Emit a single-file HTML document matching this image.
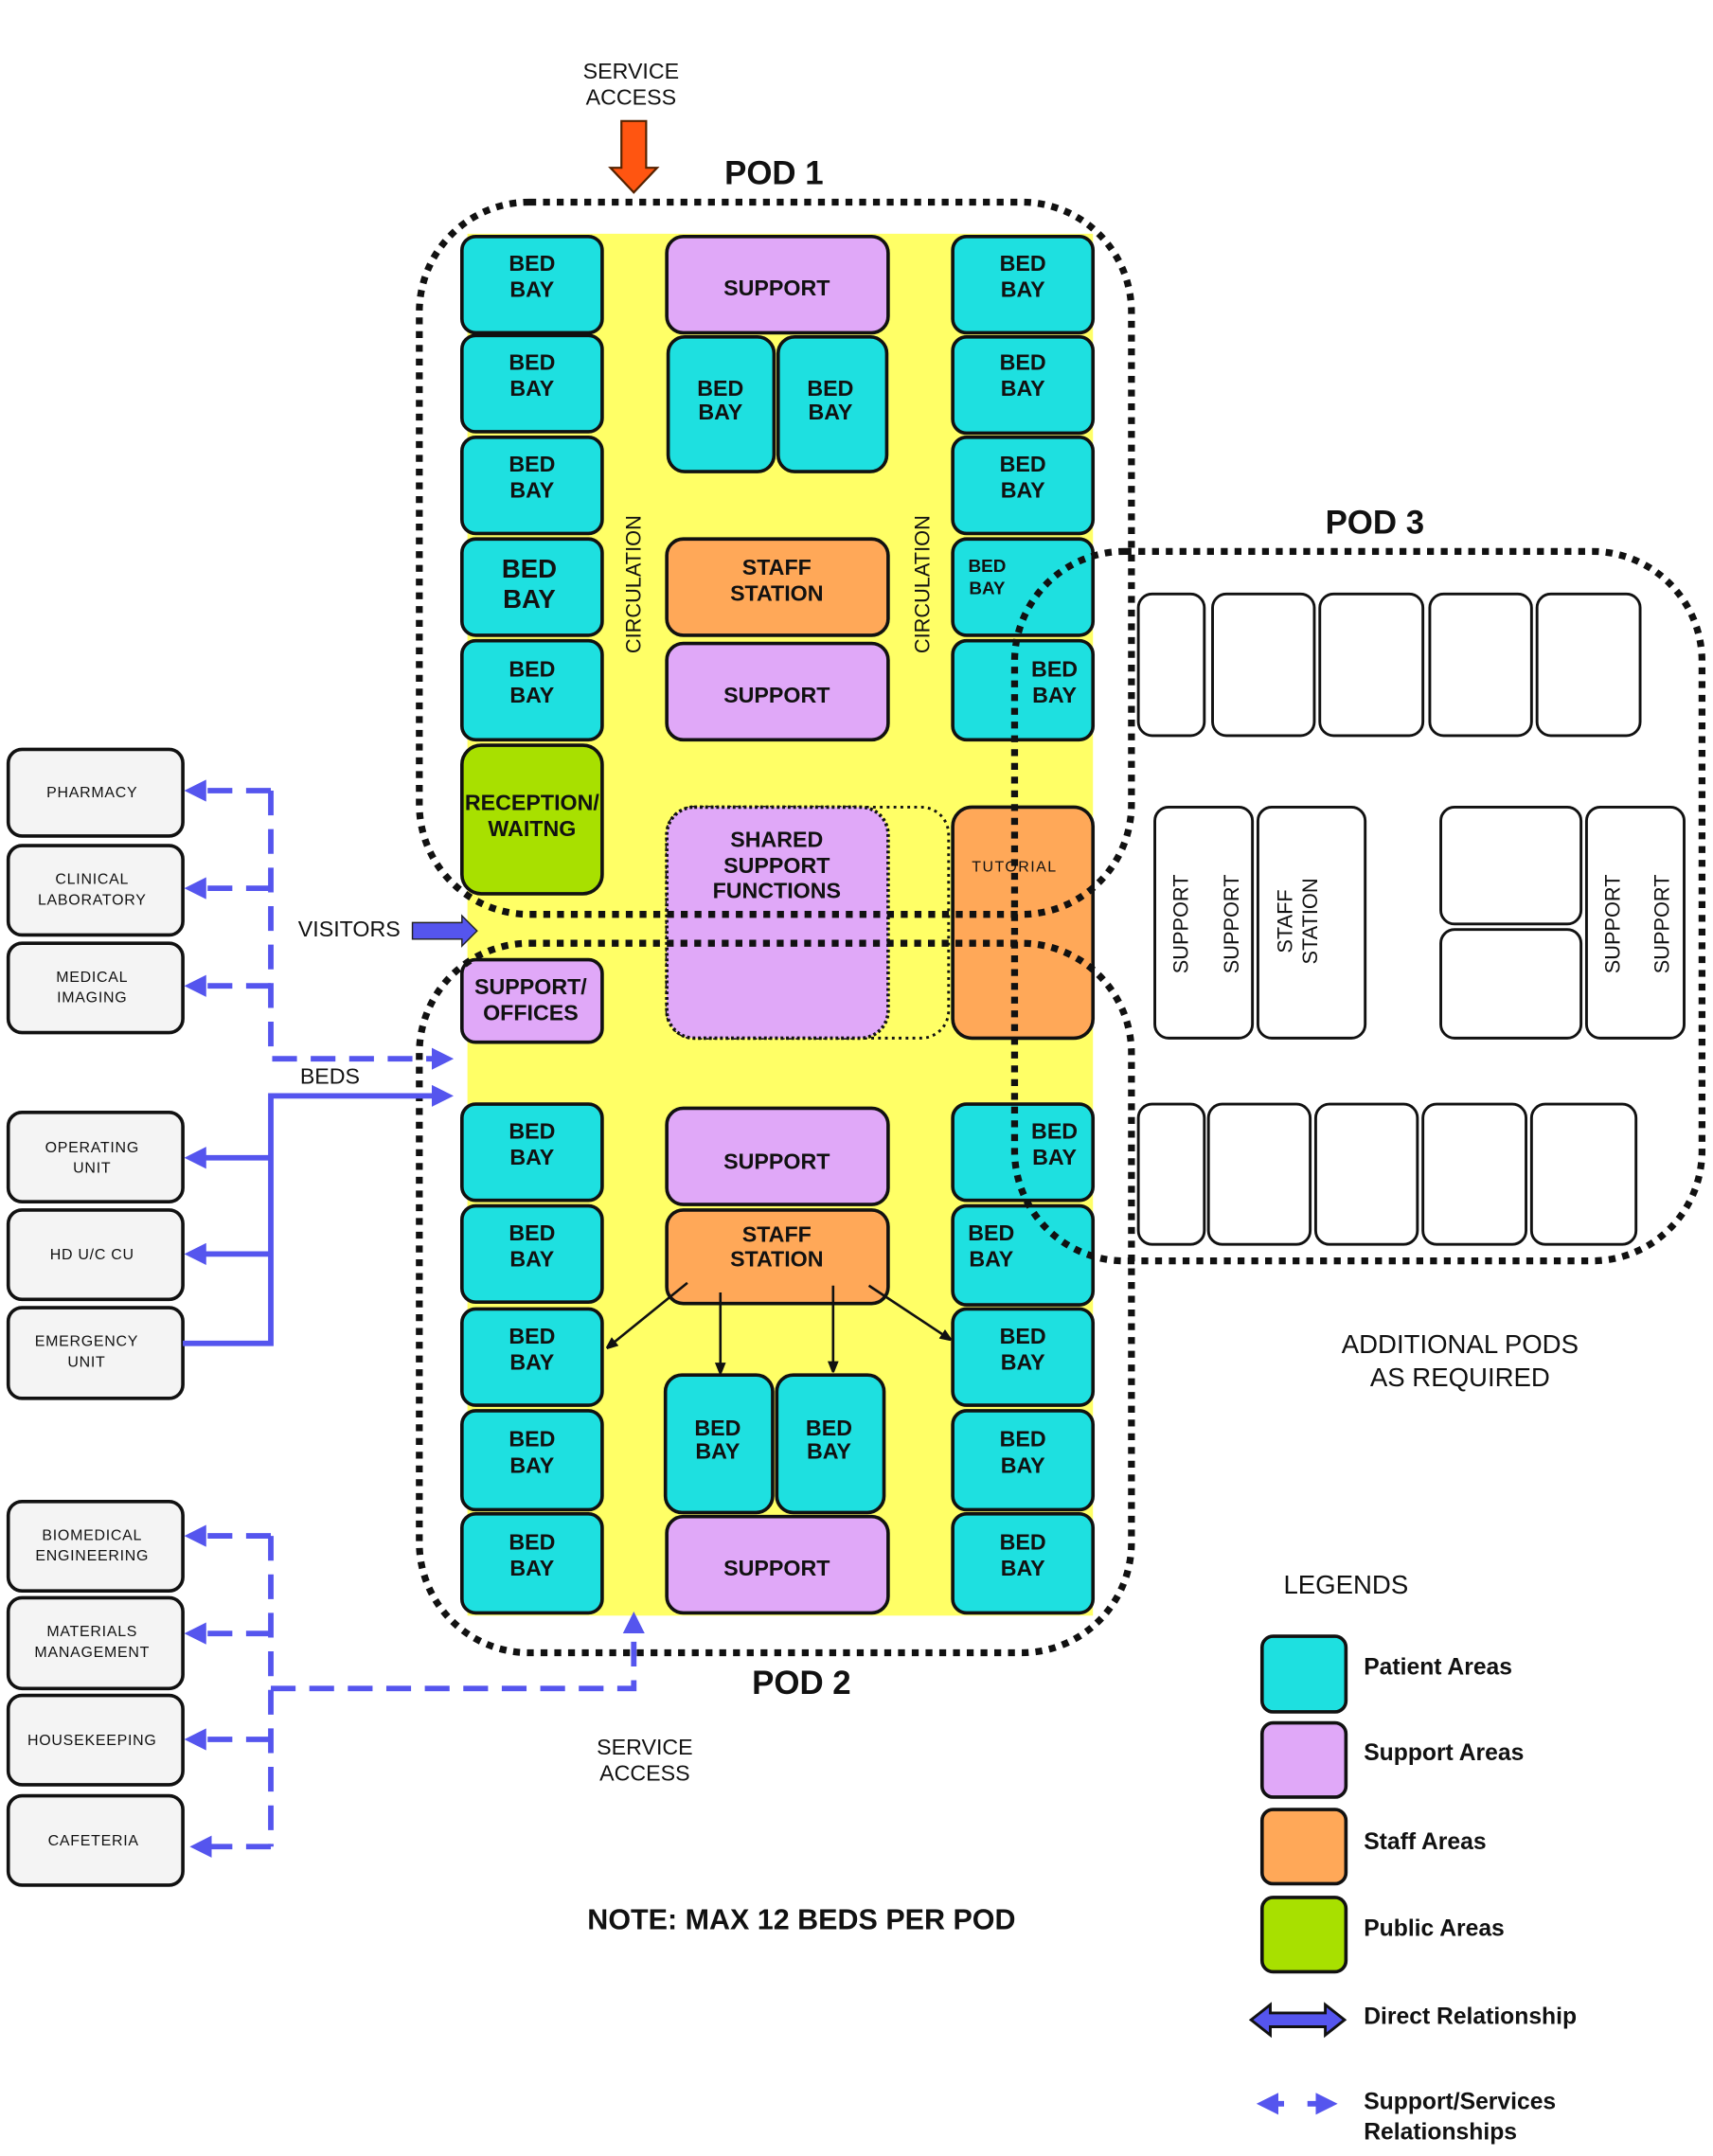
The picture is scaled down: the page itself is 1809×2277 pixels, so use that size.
<!DOCTYPE html>
<html><head><meta charset="utf-8"><style>
html,body{margin:0;padding:0;background:#fff}
svg{display:block}
text{font-family:"Liberation Sans",Arial,sans-serif;font-weight:bold;fill:#111;text-anchor:middle}
.c{fill:#1ee0e0;stroke:#111;stroke-width:2.5}
.p{fill:#e0a8f8;stroke:#111;stroke-width:2.5}
.o{fill:#ffa858;stroke:#111;stroke-width:2.5}
.g{fill:#a8e000;stroke:#111;stroke-width:2.5}
.w{fill:#fff;stroke:#111;stroke-width:2}
.l{fill:#f4f4f4;stroke:#111;stroke-width:2.5}
.pod{fill:none;stroke:#111;stroke-width:5;stroke-dasharray:5 5}
.bt{font-size:16px}
.sm{font-size:11px;font-weight:normal;letter-spacing:.5px}
.bl{stroke:#5555ee;stroke-width:4;fill:none}
.bd{stroke:#5555ee;stroke-width:4;fill:none;stroke-dasharray:18 10}
</style></head><body>
<svg width="1809" height="2277" viewBox="0 0 1246 1568" preserveAspectRatio="none" xmlns="http://www.w3.org/2000/svg">
<defs>
<marker id="ab" markerWidth="4" markerHeight="4" refX="3" refY="2" orient="auto" markerUnits="strokeWidth"><path d="M0,0 L4,2 L0,4 z" fill="#5555ee"/></marker>
<marker id="ak" markerWidth="8" markerHeight="8" refX="7" refY="4" orient="auto" markerUnits="userSpaceOnUse"><path d="M0,0 L10,4 L0,8 z" fill="#111"/></marker>
</defs>
<rect x="340" y="170" width="455" height="1005" fill="#ffff66"/>
<text x="459" y="57" style="font-size:16px;font-weight:normal">SERVICE</text>
<text x="459" y="76" style="font-size:16px;font-weight:normal">ACCESS</text>
<path d="M452,88 H470 V122 H478 L461,140 L444,122 H452 Z" fill="#ff5511" stroke="#552200" stroke-width="1.5"/>
<text x="563" y="134" style="font-size:24px">POD 1</text>
<text x="1000" y="388" style="font-size:24px">POD 3</text>
<text x="583" y="1232" style="font-size:24px">POD 2</text>

<g>
<rect class="c" x="336" y="172" width="102" height="70" rx="10"/><text class="bt" x="387" y="197">BED</text><text class="bt" x="387" y="216">BAY</text>
<rect class="c" x="336" y="244" width="102" height="70" rx="10"/><text class="bt" x="387" y="269">BED</text><text class="bt" x="387" y="288">BAY</text>
<rect class="c" x="336" y="318" width="102" height="70" rx="10"/><text class="bt" x="387" y="343">BED</text><text class="bt" x="387" y="362">BAY</text>
<rect class="c" x="336" y="392" width="102" height="70" rx="10"/><text x="385" y="420" style="font-size:19px">BED</text><text x="385" y="442" style="font-size:19px">BAY</text>
<rect class="c" x="336" y="466" width="102" height="72" rx="10"/><text class="bt" x="387" y="492">BED</text><text class="bt" x="387" y="511">BAY</text>
<rect class="g" x="336" y="542" width="102" height="108" rx="14"/><text class="bt" x="387" y="589">RECEPTION/</text><text class="bt" x="387" y="608">WAITNG</text>
<rect class="p" x="336" y="698" width="102" height="60" rx="10"/><text class="bt" x="386" y="723">SUPPORT/</text><text class="bt" x="386" y="742">OFFICES</text>
<rect class="c" x="336" y="803" width="102" height="70" rx="10"/><text class="bt" x="387" y="828">BED</text><text class="bt" x="387" y="847">BAY</text>
<rect class="c" x="336" y="877" width="102" height="70" rx="10"/><text class="bt" x="387" y="902">BED</text><text class="bt" x="387" y="921">BAY</text>
<rect class="c" x="336" y="952" width="102" height="70" rx="10"/><text class="bt" x="387" y="977">BED</text><text class="bt" x="387" y="996">BAY</text>
<rect class="c" x="336" y="1026" width="102" height="72" rx="10"/><text class="bt" x="387" y="1052">BED</text><text class="bt" x="387" y="1071">BAY</text>
<rect class="c" x="336" y="1101" width="102" height="72" rx="10"/><text class="bt" x="387" y="1127">BED</text><text class="bt" x="387" y="1146">BAY</text>
</g>
<g>
<rect class="p" x="485" y="172" width="161" height="70" rx="12"/><text class="bt" x="565" y="215">SUPPORT</text>
<rect class="c" x="486" y="245" width="77" height="98" rx="12"/><text class="bt" x="524" y="288">BED</text><text class="bt" x="524" y="305">BAY</text>
<rect class="c" x="566" y="245" width="79" height="98" rx="12"/><text class="bt" x="604" y="288">BED</text><text class="bt" x="604" y="305">BAY</text>
<rect class="o" x="485" y="392" width="161" height="70" rx="12"/><text class="bt" x="565" y="418">STAFF</text><text class="bt" x="565" y="437">STATION</text>
<rect class="p" x="485" y="468" width="161" height="70" rx="12"/><text class="bt" x="565" y="511">SUPPORT</text>
<rect x="485" y="587" width="205" height="168" rx="20" fill="none" stroke="#111" stroke-width="2" stroke-dasharray="2 3"/>
<rect class="p" x="485" y="587" width="161" height="168" rx="20" stroke-dasharray="2 2"/>
<text class="bt" x="565" y="616">SHARED</text><text class="bt" x="565" y="635">SUPPORT</text><text class="bt" x="565" y="653">FUNCTIONS</text>
<rect class="p" x="485" y="806" width="161" height="70" rx="12"/><text class="bt" x="565" y="850">SUPPORT</text>
<rect class="o" x="485" y="880" width="161" height="68" rx="12"/><text class="bt" x="565" y="903">STAFF</text><text class="bt" x="565" y="921">STATION</text>
<rect class="c" x="484" y="1000" width="78" height="100" rx="12"/><text class="bt" x="522" y="1044">BED</text><text class="bt" x="522" y="1061">BAY</text>
<rect class="c" x="565" y="1000" width="78" height="100" rx="12"/><text class="bt" x="603" y="1044">BED</text><text class="bt" x="603" y="1061">BAY</text>
<rect class="p" x="485" y="1103" width="161" height="70" rx="12"/><text class="bt" x="565" y="1146">SUPPORT</text>
</g>
<text x="466" y="425" transform="rotate(-90 466 425)" style="font-size:15px;font-weight:normal">CIRCULATION</text>
<text x="676" y="425" transform="rotate(-90 676 425)" style="font-size:15px;font-weight:normal">CIRCULATION</text>
<g>
<rect class="c" x="693" y="172" width="102" height="70" rx="10"/><text class="bt" x="744" y="197">BED</text><text class="bt" x="744" y="216">BAY</text>
<rect class="c" x="693" y="245" width="102" height="70" rx="10"/><text class="bt" x="744" y="269">BED</text><text class="bt" x="744" y="288">BAY</text>
<rect class="c" x="693" y="318" width="102" height="70" rx="10"/><text class="bt" x="744" y="343">BED</text><text class="bt" x="744" y="362">BAY</text>
<rect class="c" x="693" y="392" width="102" height="70" rx="10"/><text x="718" y="416" style="font-size:13px">BED</text><text x="718" y="432" style="font-size:13px">BAY</text>
<rect class="c" x="693" y="466" width="102" height="72" rx="10"/><text class="bt" x="767" y="492">BED</text><text class="bt" x="767" y="511">BAY</text>
<rect class="o" x="693" y="587" width="102" height="168" rx="14"/><text x="738" y="634" style="font-size:11px;font-weight:normal;letter-spacing:1px">TUTORIAL</text>
<rect class="c" x="693" y="803" width="102" height="70" rx="10"/><text class="bt" x="767" y="828">BED</text><text class="bt" x="767" y="847">BAY</text>
<rect class="c" x="693" y="877" width="102" height="72" rx="10"/><text class="bt" x="721" y="902">BED</text><text class="bt" x="721" y="921">BAY</text>
<rect class="c" x="693" y="952" width="102" height="70" rx="10"/><text class="bt" x="744" y="977">BED</text><text class="bt" x="744" y="996">BAY</text>
<rect class="c" x="693" y="1026" width="102" height="72" rx="10"/><text class="bt" x="744" y="1052">BED</text><text class="bt" x="744" y="1071">BAY</text>
<rect class="c" x="693" y="1101" width="102" height="72" rx="10"/><text class="bt" x="744" y="1127">BED</text><text class="bt" x="744" y="1146">BAY</text>
</g>
<g>
<rect class="w" x="828" y="432" width="48" height="103" rx="10"/>
<rect class="w" x="882" y="432" width="74" height="103" rx="10"/>
<rect class="w" x="960" y="432" width="75" height="103" rx="10"/>
<rect class="w" x="1040" y="432" width="74" height="103" rx="10"/>
<rect class="w" x="1118" y="432" width="75" height="103" rx="10"/>
<rect class="w" x="840" y="587" width="71" height="168" rx="10"/>
<rect class="w" x="915" y="587" width="78" height="168" rx="10"/>
<rect class="w" x="1048" y="587" width="102" height="85" rx="10"/>
<rect class="w" x="1048" y="676" width="102" height="79" rx="10"/>
<rect class="w" x="1154" y="587" width="71" height="168" rx="10"/>
<rect class="w" x="828" y="803" width="48" height="102" rx="10"/>
<rect class="w" x="879" y="803" width="74" height="102" rx="10"/>
<rect class="w" x="957" y="803" width="74" height="102" rx="10"/>
<rect class="w" x="1035" y="803" width="75" height="102" rx="10"/>
<rect class="w" x="1114" y="803" width="76" height="102" rx="10"/>
<text x="864" y="672" transform="rotate(-90 864 672)" style="font-size:15px;font-weight:normal">SUPPORT</text>
<text x="901" y="672" transform="rotate(-90 901 672)" style="font-size:15px;font-weight:normal">SUPPORT</text>
<text x="940" y="670" transform="rotate(-90 940 670)" style="font-size:15px;font-weight:normal">STAFF</text>
<text x="958" y="670" transform="rotate(-90 958 670)" style="font-size:15px;font-weight:normal">STATION</text>
<text x="1178" y="672" transform="rotate(-90 1178 672)" style="font-size:15px;font-weight:normal">SUPPORT</text>
<text x="1214" y="672" transform="rotate(-90 1214 672)" style="font-size:15px;font-weight:normal">SUPPORT</text>
</g>
<rect class="pod" x="305" y="147" width="518" height="518" rx="80"/>
<rect class="pod" x="305" y="686" width="518" height="516" rx="80"/>
<rect class="pod" x="738" y="401" width="500" height="516" rx="80"/>
<g stroke="#111" stroke-width="1.8" fill="none">
<line x1="500" y1="933" x2="442" y2="980" marker-end="url(#ak)"/>
<line x1="524" y1="940" x2="524" y2="998" marker-end="url(#ak)"/>
<line x1="606" y1="935" x2="606" y2="997" marker-end="url(#ak)"/>
<line x1="632" y1="935" x2="691" y2="974" marker-end="url(#ak)"/>
</g>
<text x="254" y="681" style="font-size:16px;font-weight:normal">VISITORS</text>
<path d="M300,671 H336 V666 L347,677 L336,688 V683 H300 Z" fill="#5555ee" stroke="#222" stroke-width="1"/>
<text x="240" y="788" style="font-size:16px;font-weight:normal">BEDS</text>
<g>
<rect class="l" x="6" y="545" width="127" height="63" rx="10"/><text class="sm" x="67" y="580">PHARMACY</text>
<rect class="l" x="6" y="615" width="127" height="65" rx="10"/><text class="sm" x="67" y="643">CLINICAL</text><text class="sm" x="67" y="658">LABORATORY</text>
<rect class="l" x="6" y="686" width="127" height="65" rx="10"/><text class="sm" x="67" y="714">MEDICAL</text><text class="sm" x="67" y="729">IMAGING</text>
<rect class="l" x="6" y="809" width="127" height="65" rx="10"/><text class="sm" x="67" y="838">OPERATING</text><text class="sm" x="67" y="853">UNIT</text>
<rect class="l" x="6" y="880" width="127" height="65" rx="10"/><text class="sm" x="67" y="916">HD U/C CU</text>
<rect class="l" x="6" y="951" width="127" height="66" rx="10"/><text class="sm" x="63" y="979">EMERGENCY</text><text class="sm" x="63" y="994">UNIT</text>
<rect class="l" x="6" y="1092" width="127" height="65" rx="10"/><text class="sm" x="67" y="1120">BIOMEDICAL</text><text class="sm" x="67" y="1135">ENGINEERING</text>
<rect class="l" x="6" y="1162" width="127" height="66" rx="10"/><text class="sm" x="67" y="1190">MATERIALS</text><text class="sm" x="67" y="1205">MANAGEMENT</text>
<rect class="l" x="6" y="1233" width="127" height="65" rx="10"/><text class="sm" x="67" y="1269">HOUSEKEEPING</text>
<rect class="l" x="6" y="1306" width="127" height="65" rx="10"/><text class="sm" x="68" y="1342">CAFETERIA</text>
</g>
<path class="bd" d="M197,575 V770 H326" marker-end="url(#ab)"/>
<path class="bd" d="M197,575 H138" marker-end="url(#ab)"/>
<path class="bd" d="M197,646 H138" marker-end="url(#ab)"/>
<path class="bd" d="M197,717 H138" marker-end="url(#ab)"/>
<path class="bl" d="M133,977 H197 V797 H326" marker-end="url(#ab)"/>
<path class="bl" d="M197,842 H138" marker-end="url(#ab)"/>
<path class="bl" d="M197,912 H138" marker-end="url(#ab)"/>
<path class="bd" d="M197,1117 V1343"/>
<path class="bd" d="M197,1117 H138" marker-end="url(#ab)"/>
<path class="bd" d="M197,1188 H138" marker-end="url(#ab)"/>
<path class="bd" d="M197,1265 H138" marker-end="url(#ab)"/>
<path class="bd" d="M197,1343 H142" marker-end="url(#ab)"/>
<path class="bd" d="M197,1228 H461 V1176" marker-end="url(#ab)"/>
<text x="469" y="1276" style="font-size:16px;font-weight:normal">SERVICE</text>
<text x="469" y="1295" style="font-size:16px;font-weight:normal">ACCESS</text>
<text x="583" y="1403" style="font-size:21px">NOTE: MAX 12 BEDS PER POD</text>
<text x="1062" y="984" style="font-size:19px;font-weight:normal">ADDITIONAL PODS</text>
<text x="1062" y="1008" style="font-size:19px;font-weight:normal">AS REQUIRED</text>
<text x="979" y="1159" style="font-size:19px;font-weight:normal">LEGENDS</text>
<rect class="c" x="918" y="1190" width="61" height="55" rx="8"/>
<rect class="p" x="918" y="1253" width="61" height="54" rx="8"/>
<rect class="o" x="918" y="1316" width="61" height="54" rx="8"/>
<rect class="g" x="918" y="1380" width="61" height="54" rx="8"/>
<g style="font-size:17px">
<text x="992" y="1218" style="text-anchor:start">Patient Areas</text>
<text x="992" y="1280" style="text-anchor:start">Support Areas</text>
<text x="992" y="1345" style="text-anchor:start">Staff Areas</text>
<text x="992" y="1408" style="text-anchor:start">Public Areas</text>
<text x="992" y="1472" style="text-anchor:start">Direct Relationship</text>
<text x="992" y="1534" style="text-anchor:start">Support/Services</text>
<text x="992" y="1556" style="text-anchor:start">Relationships</text>
</g>
<path d="M910,1469 L924,1458 V1464 H964 V1458 L978,1469 L964,1480 V1474 H924 V1480 Z" fill="#5555ee" stroke="#111" stroke-width="2"/>
<path class="bl" d="M934,1530 H918" marker-end="url(#ab)"/>
<path class="bl" d="M951,1530 H969" marker-end="url(#ab)"/>
</svg>
</body></html>
